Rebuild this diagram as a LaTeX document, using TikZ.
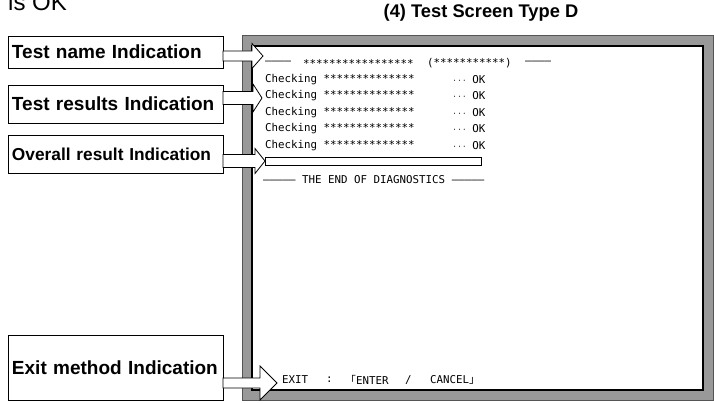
\documentclass[tikz,border=0pt]{standalone}
\usepackage{fontspec}
\setmainfont{Liberation Sans}
\newfontfamily\scrfont{DejaVu Sans Mono}
\newfontfamily\cjk{Noto Sans CJK JP}
\usetikzlibrary{calc,positioning}
\definecolor{FrameGray}{RGB}{153,153,153}
\definecolor{FrameDark}{RGB}{85,85,85}
\newcommand{\blockarrow}[5]{%
  \draw[fill=white,line width=0.8pt] ($(#1.east|-#2)+(0,-#3)$)--($(#2)+(-#5,-#3)$)--($(#2)+(-#5,-#4)$)--(#2)
    --($(#2)+(-#5,#4)$)--($(#2)+(-#5,#3)$)--($(#1.east|-#2)+(0,#3)$)--cycle;}

\begin{document}
\begin{tikzpicture}[x=1pt,y=-1pt,
  tagbox/.style={draw,line width=0.8pt,minimum width=215pt,text width=207pt,align=left,
    inner sep=4pt,outer sep=0pt,font=\fontsize{19}{22}\selectfont\bfseries},
  scr/.style={anchor=west,inner sep=0pt,font=\scrfont\fontsize{10.8}{12}\selectfont}]
  \useasboundingbox (0,0) rectangle (714,403);
  \node[anchor=base west,inner sep=0pt,font=\fontsize{24}{28}\selectfont] (isok) at (8,11) {is OK};
  \node[font=\fontsize{18.3}{21}\selectfont\bfseries] (title) at (481,13) {(4) Test Screen Type D};
  \draw[fill=FrameGray,draw=FrameDark,line width=1pt] (242,36) rectangle (713,400);
  \draw[fill=white,draw=black,line width=1.2pt] (252,46) rectangle (703,390);
  \node[tagbox,minimum height=32pt] (namebox) at (115.5,52) {Test name Indication};
  \node[tagbox,minimum height=38pt] (resbox) at (115.5,104) {Test results Indication};
  \node[tagbox,minimum height=38pt,font=\fontsize{17.3}{20}\selectfont\bfseries] (overallbox) at (115.5,154) {Overall result Indication};
  \node[tagbox,minimum height=65pt] (exitbox) at (115.5,367.5) {Exit method Indication};
  \node[scr] (hdrl) at (265,63) {————};
  \node[scr] (hdrname) at (303,63) {*****************};
  \node[scr] (hdrcode) at (427,63) {(***********)};
  \node[scr] (hdrr) at (525,63) {————};
  \foreach \i/\y in {1/79.5,2/96,3/112.5,4/129,5/146}{
    \node[scr] (chk\i) at (265,\y) {Checking **************};
    \node[scr] (ok\i) at (453,\y) {$\cdots$ OK};
  }
  \node[draw,fill=white,line width=0.8pt,minimum width=216pt,minimum height=8pt,inner sep=0pt,anchor=west] (resbar) at (265,161) {};
  \node[scr] (endline) at (263,180) {————— THE END OF DIAGNOSTICS —————};
  \node[scr] (exitkey) at (282,380) {EXIT};
  \node[scr] (exitcolon) at (326,380) {:};
  \node[scr] (exitenter) at (345,380) {{\cjk 「}ENTER};
  \node[scr] (exitslash) at (405,380) {/};
  \node[scr] (exitcancel) at (430,380) {CANCEL{\cjk 」}};
  \coordinate (nametip) at (263,56);
  \coordinate (restip) at (262,98);
  \coordinate (exittip) at (277,383);
  \blockarrow{namebox}{nametip}{5}{12.5}{11}
  \blockarrow{resbox}{restip}{6.5}{14}{9}
  \blockarrow{overallbox}{resbar.west}{6.5}{12.5}{10}
  \blockarrow{exitbox}{exittip}{5}{17}{17}
\end{tikzpicture}
\end{document}
